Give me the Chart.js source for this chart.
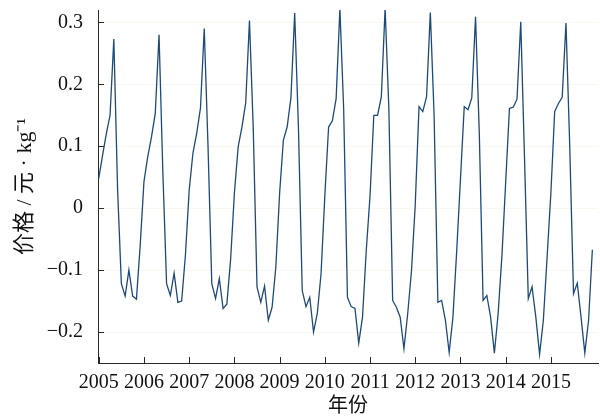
<!DOCTYPE html>
<html lang="zh-CN">
<head>
    <meta charset="UTF-8">
    <title>价格</title>
    <script src="https://cdn.jsdelivr.net/npm/chart.js"></script>
    <style>
        body { margin: 0; background: #fff; }
    </style>
</head>
<body>

    <canvas id="grafico" width="600" height="419"></canvas>

    <script>
        // monthly values, Jan 2005 .. Dec 2015
        const years = [2005, 2006, 2007, 2008, 2009, 2010, 2011, 2012, 2013, 2014, 2015];
        const price = [
            0.048, 0.085, 0.120, 0.150, 0.273, 0.030, -0.122, -0.142, -0.100, -0.142, -0.147, -0.060,
            0.043, 0.083, 0.115, 0.153, 0.280, 0.060, -0.122, -0.141, -0.105, -0.152, -0.150, -0.076,
            0.029, 0.089, 0.121, 0.162, 0.290, 0.100, -0.122, -0.146, -0.114, -0.162, -0.155, -0.082,
            0.024, 0.099, 0.131, 0.170, 0.303, 0.130, -0.127, -0.152, -0.126, -0.181, -0.160, -0.095,
            0.024, 0.110, 0.131, 0.178, 0.315, 0.130, -0.133, -0.159, -0.144, -0.200, -0.170, -0.106,
            0.020, 0.131, 0.141, 0.177, 0.322, 0.160, -0.144, -0.159, -0.162, -0.218, -0.176, -0.068,
            0.020, 0.150, 0.150, 0.180, 0.323, 0.160, -0.149, -0.160, -0.176, -0.227, -0.170, -0.101,
            0.006, 0.164, 0.156, 0.180, 0.316, 0.150, -0.152, -0.149, -0.181, -0.233, -0.176, -0.069,
            0.047, 0.164, 0.159, 0.178, 0.309, 0.120, -0.149, -0.141, -0.176, -0.234, -0.170, -0.077,
            0.042, 0.161, 0.163, 0.176, 0.301, 0.080, -0.146, -0.127, -0.176, -0.236, -0.181, -0.078,
            0.025, 0.156, 0.169, 0.179, 0.299, 0.100, -0.138, -0.121, -0.176, -0.234, -0.181, -0.067
        ];
        const yTicks = [-0.2, -0.1, 0, 0.1, 0.2, 0.3];

        const fonte = "'Liberation Serif', 'Noto Sans CJK SC', serif";
        const corEixo = '#2a2a2a';

        // ticks pointing inward, like the original figure
        const ticksInternos = {
            id: 'ticksInternos',
            afterDraw(chart) {
                const ctx = chart.ctx;
                const area = chart.chartArea;
                const sx = chart.scales.x, sy = chart.scales.y;
                ctx.save();
                ctx.strokeStyle = corEixo;
                ctx.lineWidth = 1;
                ctx.beginPath();
                sy.ticks.forEach(t => {
                    const y = Math.round(sy.getPixelForValue(t.value)) + 0.5;
                    ctx.moveTo(area.left, y);
                    ctx.lineTo(area.left + 6, y);
                });
                sx.ticks.forEach(t => {
                    const x = Math.round(sx.getPixelForValue(t.value)) + 0.5;
                    ctx.moveTo(x, area.bottom);
                    ctx.lineTo(x, area.bottom - 6);
                });
                ctx.stroke();
                ctx.restore();
            }
        };

        const ctx = document.getElementById('grafico').getContext('2d');
        const grafico = new Chart(ctx, {
            type: 'line',
            data: {
                datasets: [{
                    data: price.map((v, i) => ({ x: i, y: v })),
                    borderColor: '#1e4a78',
                    borderWidth: 1.3,
                    pointRadius: 0,
                    tension: 0,
                    fill: false
                }]
            },
            options: {
                responsive: false,
                animation: false,
                devicePixelRatio: 1,
                layout: { padding: { top: 10, right: 2, left: 0, bottom: 0 } },
                plugins: {
                    legend: { display: false },
                    tooltip: { enabled: false }
                },
                scales: {
                    x: {
                        type: 'linear',
                        min: -0.2,
                        max: 132.5,
                        afterBuildTicks: s => { s.ticks = years.map(a => ({ value: (a - years[0]) * 12 })); },
                        afterFit: s => { s.height = 56; s.paddingLeft = 0; s.paddingRight = 0; },
                        grid: { display: false, drawTicks: false },
                        border: { display: true, color: corEixo, width: 1 },
                        ticks: {
                            padding: 8,
                            color: '#111',
                            font: { family: fonte, size: 20 },
                            maxRotation: 0,
                            autoSkip: false,
                            callback: v => String(years[0] + v / 12)
                        },
                        title: {
                            display: true,
                            text: '年份',
                            color: '#111',
                            font: { family: fonte, size: 20 },
                            padding: { top: 0, bottom: 0 }
                        }
                    },
                    y: {
                        min: -0.25,
                        max: 0.32,
                        afterBuildTicks: s => { s.ticks = yTicks.map(v => ({ value: v })); },
                        afterFit: s => { s.width = 98; s.paddingTop = 0; s.paddingBottom = 0; },
                        grid: { display: true, drawTicks: false, color: 'rgba(235,235,215,0.35)' },
                        border: { display: true, color: corEixo, width: 1 },
                        ticks: {
                            padding: 15,
                            color: '#111',
                            font: { family: fonte, size: 20 },
                            callback: v => v === 0 ? '0' : (v < 0 ? '\u2212' : '') + Math.abs(v).toFixed(1)
                        },
                        title: {
                            display: true,
                            text: '价格 / 元 · kg\u207B\u00B9',
                            color: '#111',
                            font: { family: fonte, size: 22 },
                            padding: { top: 12, bottom: 0 }
                        }
                    }
                }
            },
            plugins: [ticksInternos]
        });
    </script>

</body>
</html>
